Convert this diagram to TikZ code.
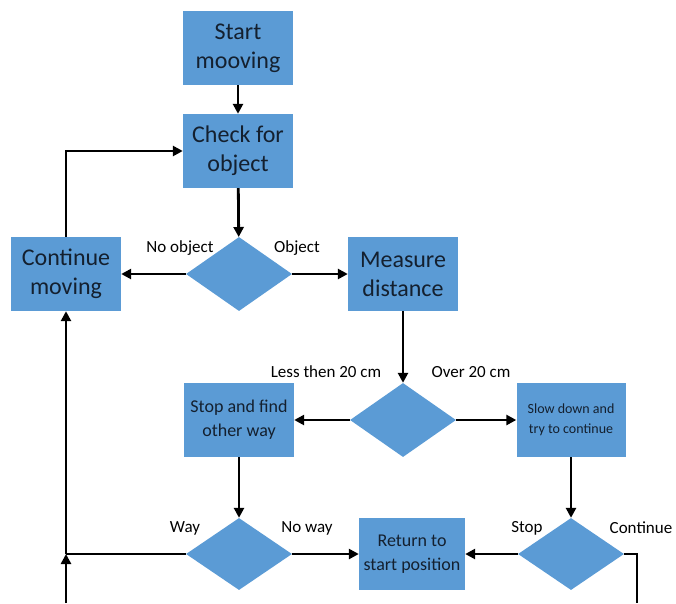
\documentclass[tikz,border=0pt]{standalone}
\usepackage{fontspec}
\setmainfont{Carlito}
\usetikzlibrary{shapes.geometric,arrows.meta}
\definecolor{boxfill}{HTML}{5B9BD5}
\definecolor{boxtext}{HTML}{14202F}
\begin{document}
\begin{tikzpicture}[x=1pt,y=-1pt,
  stepbox/.style={rectangle,fill=boxfill,draw=none,minimum width=110pt,minimum height=74pt,
    inner sep=2pt,align=center,text=boxtext,font=\fontsize{24}{29}\selectfont},
  decision/.style={diamond,fill=boxfill,draw=none,minimum width=106pt,minimum height=74pt,inner sep=0pt},
  lbl/.style={font=\fontsize{17}{20}\selectfont,text=black,inner sep=0pt},
  flow/.style={line width=2.8pt,-{Triangle[length=10pt,width=10pt]}},
  plain/.style={line width=2.8pt}]
\useasboundingbox (0,0) rectangle (676,603);
% boxes
\node[stepbox] (start) at (238,48) {Start\\mooving};
\node[stepbox] (check) at (238,151) {Check for\\object};
\node[decision] (d1) at (239,274) {};
\node[stepbox] (cont) at (66,274) {Continue\\moving};
\node[stepbox] (meas) at (403,274) {Measure\\distance};
\node[decision] (d2) at (403,420) {};
\node[stepbox,font=\fontsize{18}{24}\selectfont] (stopfind) at (239,420) {Stop and find\\other way};
\node[stepbox,minimum width=109pt,font=\fontsize{14}{20}\selectfont] (slow) at (571,420) {Slow down and\\try to continue};
\node[decision,minimum height=72pt] (d3) at (239,554) {};
\node[stepbox,minimum width=106pt,minimum height=72pt,font=\fontsize{18}{24}\selectfont] (ret) at (412,554) {Return to\\start position};
\node[decision,minimum height=72pt] (d4) at (571,554) {};
% branch labels
\node[lbl] (lno) at (180,248) {No object};
\node[lbl] (lobj) at (297,248) {Object};
\node[lbl] (lless) at (326,372) {Less then 20 cm};
\node[lbl] (lover) at (471,372) {Over 20 cm};
\node[lbl] (lway) at (185,528) {Way};
\node[lbl] (lnoway) at (307,528) {No way};
\node[lbl] (lstop) at (527,528) {Stop};
\node[lbl] (lcont) at (641,528) {Continue};
% free ends and junction
\coordinate (j) at (66,554);
\coordinate (bl) at (66,603);
\coordinate (br) at (637,603);
% connectors
\draw[flow] (start) -- (check);
\draw[flow] (check) -- (d1);
\draw[flow] (d1.west) -- (cont.east);
\draw[flow] (d1.east) -- (meas.west);
\draw[flow] (cont.north) |- (check.west);
\draw[flow] (meas) -- (d2);
\draw[flow] (d2.west) -- (stopfind.east);
\draw[flow] (d2.east) -- (slow.west);
\draw[flow] (stopfind) -- (d3);
\draw[flow] (slow) -- (d4);
\draw[flow] (d3.east) -- (ret.west);
\draw[flow] (d4.west) -- (ret.east);
\draw[plain] (d3.west) -- (j);
\draw[flow] (j) -- (cont.south);
\draw[flow] (bl) -- (j);
\draw[plain] (d4.east) -| (br);
\end{tikzpicture}
\end{document}
